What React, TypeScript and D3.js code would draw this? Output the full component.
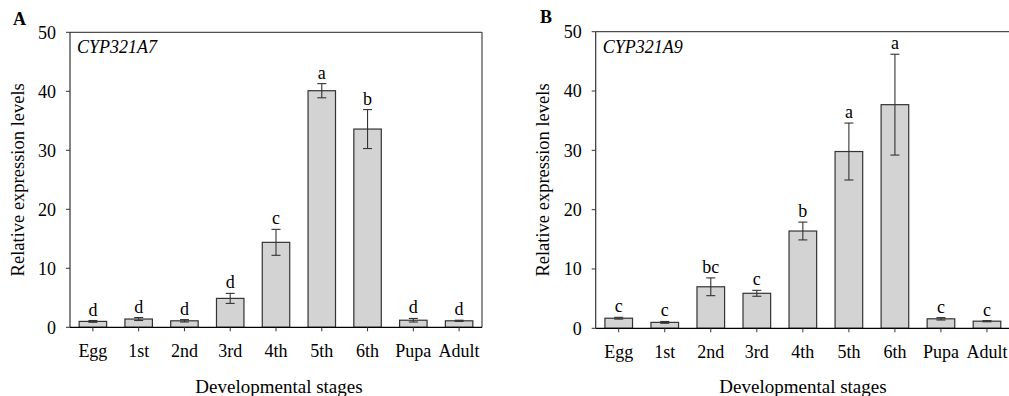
import React from "react";
import * as d3 from "d3";

const stages = ["Egg", "1st", "2nd", "3rd", "4th", "5th", "6th", "Pupa", "Adult"];
const yTicks = [0, 10, 20, 30, 40, 50];

const a7Mean = [1.0, 1.4, 1.1, 4.9, 14.4, 40.1, 33.6, 1.2, 1.1];
const a7Err = [0.15, 0.25, 0.2, 0.85, 2.2, 1.2, 3.3, 0.3, 0.1];
const a7Letters = ["d", "d", "d", "d", "c", "a", "b", "d", "d"];

const a9Mean = [1.7, 1.0, 7.0, 5.9, 16.4, 29.8, 37.7, 1.6, 1.2];
const a9Err = [0.15, 0.15, 1.5, 0.5, 1.5, 4.8, 8.5, 0.2, 0.1];
const a9Letters = ["c", "c", "bc", "c", "b", "a", "a", "c", "c"];

const FONT = "'Liberation Serif', 'Times New Roman', serif";

type PanelProps = {
  tag: string;
  gene: string;
  means: number[];
  errs: number[];
  letters: string[];
  left: number;
  right: number;
  top: number;
  bottom: number;
  tagX: number;
  tagY: number;
  yTitleX: number;
  xTitleX: number;
};

function Panel(p: PanelProps) {
  const x = d3.scaleBand<string>().domain(stages).range([p.left, p.right]).paddingInner(0.4).paddingOuter(0.2);
  const y = d3.scaleLinear().domain([0, 50]).range([p.bottom, p.top]);
  const bw = x.bandwidth();
  const cap = 4.5;
  return (
    <g fontFamily={FONT} fill="#000">
      <text x={p.tagX} y={p.tagY} fontSize={18} fontWeight="bold">{p.tag}</text>
      {/* frame */}
      <line x1={p.left} x2={p.right} y1={p.top} y2={p.top} stroke="#222" strokeWidth={1} />
      <line x1={p.right} x2={p.right} y1={p.top} y2={p.bottom} stroke="#222" strokeWidth={1} />
      {/* bars */}
      {stages.map((s, i) => {
        const cx = (x(s) as number) + bw / 2;
        const yt = y(means0(p.means, i) + p.errs[i]);
        const yb = y(means0(p.means, i) - p.errs[i]);
        return (
          <g key={s}>
            <rect x={x(s)} y={y(p.means[i])} width={bw} height={y(0) - y(p.means[i])} fill="#d3d3d3" stroke="#333" strokeWidth={1.2} />
            <line x1={cx} x2={cx} y1={yt} y2={yb} stroke="#333" strokeWidth={1.1} />
            <line x1={cx - cap} x2={cx + cap} y1={yt} y2={yt} stroke="#333" strokeWidth={1.1} />
            <line x1={cx - cap} x2={cx + cap} y1={yb} y2={yb} stroke="#333" strokeWidth={1.1} />
            <text x={cx} y={yt - 5} fontSize={18} textAnchor="middle">{p.letters[i]}</text>
          </g>
        );
      })}
      {/* y axis */}
      <line x1={p.left} x2={p.left} y1={p.top} y2={p.bottom} stroke="#333" strokeWidth={1.2} />
      {yTicks.map((t) => (
        <g key={t}>
          <line x1={p.left - 4} x2={p.left} y1={y(t)} y2={y(t)} stroke="#333" strokeWidth={1} />
          <text x={p.left - 14} y={y(t)} dy="0.35em" fontSize={18} textAnchor="end">{t}</text>
        </g>
      ))}
      {/* x axis */}
      <line x1={p.left} x2={p.right} y1={p.bottom} y2={p.bottom} stroke="#000" strokeWidth={1.2} />
      {stages.map((s) => {
        const cx = (x(s) as number) + bw / 2;
        return (
          <g key={s}>
            <line x1={cx} x2={cx} y1={p.bottom} y2={p.bottom + 4} stroke="#333" strokeWidth={1} />
            <text x={cx} y={p.bottom + 30} fontSize={18} textAnchor="middle">{s}</text>
          </g>
        );
      })}
      <text x={p.left + 7} y={p.top + 21} fontSize={18} fontStyle="italic">{p.gene}</text>
      <text x={p.xTitleX} y={393} fontSize={19} textAnchor="middle">Developmental stages</text>
      <text transform={`translate(${p.yTitleX},${(p.top + p.bottom) / 2}) rotate(-90)`} dy="0.35em" fontSize={18.5} textAnchor="middle">Relative expression levels</text>
    </g>
  );
}

function means0(m: number[], i: number) {
  return m[i];
}

export default function App() {
  return (
    <svg width={1009} height={396} style={{ position: "absolute", left: 0, top: 0, background: "#fff" }}>
      <rect width={1009} height={396} fill="#fff" />
      <Panel tag="A" gene="CYP321A7" means={a7Mean} errs={a7Err} letters={a7Letters}
        left={70} right={482} top={32.3} bottom={327.3} tagX={13} tagY={25} yTitleX={17.5} xTitleX={279} />
      <Panel tag="B" gene="CYP321A9" means={a9Mean} errs={a9Err} letters={a9Letters}
        left={595.7} right={1010} top={31.7} bottom={328.3} tagX={540} tagY={22.5} yTitleX={542.5} xTitleX={803} />
    </svg>
  );
}
